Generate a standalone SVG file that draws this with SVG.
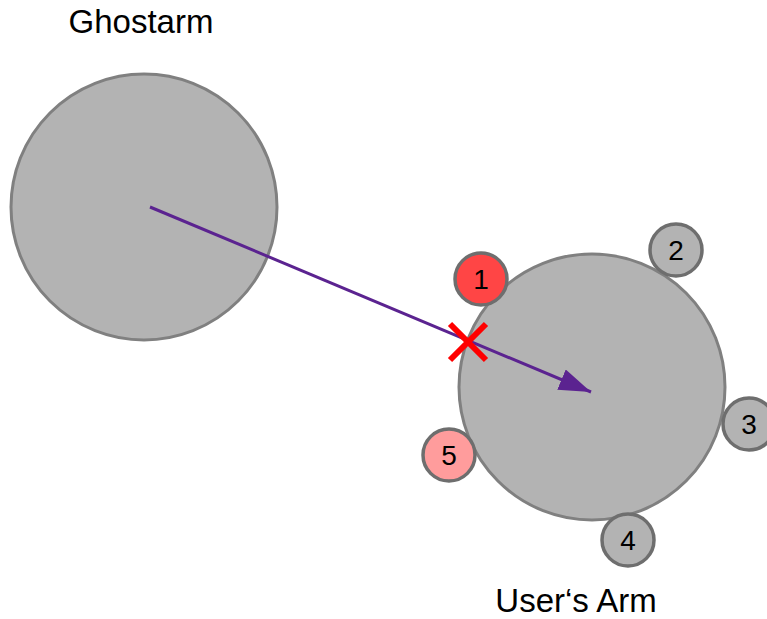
<svg xmlns="http://www.w3.org/2000/svg" width="767" height="619" viewBox="0 0 767 619">
  <defs>
    <style>
      .big { fill: #b3b3b3; stroke: #808080; stroke-width: 3; }
      .small { stroke: #6e6e6e; stroke-width: 3.5; }
      .grey { fill: #b3b3b3; }
      .label { font-family: "Liberation Sans", Arial, sans-serif; font-size: 33px; fill: #000; text-anchor: middle; }
      .num { font-family: "Liberation Sans", Arial, sans-serif; font-size: 28px; fill: #000; text-anchor: middle; }
    </style>
    <marker id="arrowhead" markerUnits="userSpaceOnUse" markerWidth="34" markerHeight="22" refX="32" refY="11" orient="auto">
      <path d="M0,0 L32,11 L0,22 Z" fill="#5b2390"/>
    </marker>
  </defs>
  <rect width="767" height="619" fill="#ffffff"/>

  <g id="ghostarm">
    <circle class="big" cx="144" cy="207" r="133"/>
    <text class="label" x="141" y="33">Ghostarm</text>
  </g>

  <g id="users-arm">
    <circle class="big" cx="592" cy="387" r="133"/>
    <text class="label" x="576" y="612">User‘s Arm</text>
  </g>

  <g id="connectors">
    <line x1="150" y1="207" x2="591" y2="392" stroke="#5b2390" stroke-width="3" marker-end="url(#arrowhead)"/>
  </g>

  <g id="cross">
    <path d="M450,324 L486,360 M486,324 L450,360" stroke="#ff0000" stroke-width="6" fill="none"/>
  </g>

  <g id="sensor-1">
    <circle class="small" cx="481" cy="279" r="26" fill="#ff4545"/>
    <text class="num" x="481" y="289">1</text>
  </g>
  <g id="sensor-2">
    <circle class="small grey" cx="676" cy="250" r="26"/>
    <text class="num" x="676" y="260">2</text>
  </g>
  <g id="sensor-3">
    <circle class="small grey" cx="749" cy="424" r="26"/>
    <text class="num" x="749" y="434">3</text>
  </g>
  <g id="sensor-4">
    <circle class="small grey" cx="628" cy="540" r="26"/>
    <text class="num" x="628" y="550">4</text>
  </g>
  <g id="sensor-5">
    <circle class="small" cx="449" cy="455" r="26" fill="#ff9c9c"/>
    <text class="num" x="449" y="465">5</text>
  </g>
</svg>
